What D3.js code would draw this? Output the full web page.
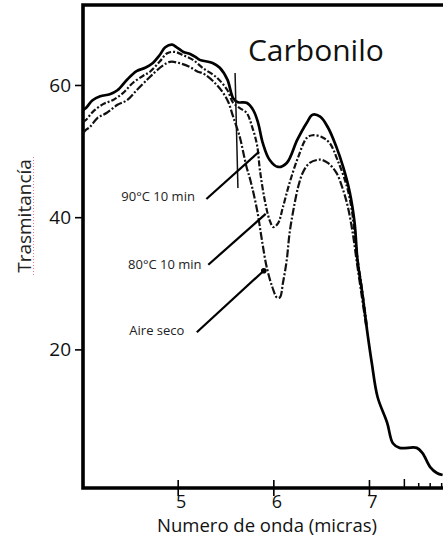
<!DOCTYPE html>
<html>
<head>
<meta charset="utf-8">
<script src="https://cdn.jsdelivr.net/npm/d3@7"></script>
<style>
  body { margin: 0; background: #fff; }
  svg { display: block; font-family: "Open Sans", sans-serif; }
</style>
</head>
<body>
<svg id="chart" width="443" height="537"></svg>
<script>
    'use strict';

    // curves: [micras, trasmitancia]
    var curve90 = [
        [4.01, 56.2], [4.04, 56.5], [4.11, 57.7], [4.19, 58.3], [4.29, 58.6], [4.37, 59.2],
        [4.47, 60.8], [4.57, 62.1], [4.66, 62.6], [4.73, 63.2], [4.81, 64.5], [4.87, 65.7],
        [4.94, 66.1], [4.99, 65.7], [5.06, 65.0], [5.13, 64.7], [5.20, 64.1], [5.23, 63.8],
        [5.37, 63.3], [5.44, 62.6], [5.52, 60.8], [5.58, 58.0], [5.63, 57.4], [5.72, 57.3],
        [5.79, 56.2], [5.84, 54.3], [5.89, 51.2], [5.96, 48.7], [6.05, 47.6], [6.14, 48.2],
        [6.25, 51.7], [6.35, 54.3], [6.41, 55.5], [6.49, 55.2], [6.57, 53.6], [6.66, 50.6],
        [6.73, 47.6], [6.80, 43.7], [6.85, 39.1], [6.88, 33.5], [6.93, 28.5], [6.98, 22.9],
        [7.03, 17.9], [7.09, 12.8], [7.19, 8.9], [7.25, 5.8], [7.32, 5.1], [7.50, 5.1],
        [7.56, 4.3], [7.64, 2.2], [7.71, 1.3], [7.77, 1.0]
    ];
    var curve80 = [
        [4.01, 54.4], [4.04, 54.7], [4.11, 55.9], [4.22, 57.1], [4.32, 57.7], [4.43, 58.8],
        [4.53, 60.3], [4.64, 61.4], [4.71, 62.0], [4.81, 63.5], [4.89, 64.8], [4.97, 65.0],
        [5.06, 64.5], [5.16, 63.8], [5.26, 62.6], [5.41, 61.1], [5.52, 59.2], [5.58, 57.3],
        [5.65, 56.5], [5.72, 55.8], [5.78, 53.6], [5.83, 50.9], [5.86, 47.1], [5.91, 42.6],
        [5.96, 39.6], [6.00, 38.5], [6.05, 39.1], [6.10, 41.5], [6.17, 45.2], [6.26, 49.1],
        [6.35, 52.0], [6.41, 52.4], [6.51, 52.1], [6.59, 51.2], [6.67, 48.7], [6.77, 44.6],
        [6.82, 41.1], [6.85, 37.6], [6.88, 33.8], [6.93, 28.8], [6.98, 23.3]
    ];
    var curveAire = [
        [4.01, 52.7], [4.04, 53.2], [4.08, 53.6], [4.16, 55.0], [4.26, 55.8], [4.37, 57.0],
        [4.47, 57.7], [4.57, 59.2], [4.68, 60.8], [4.73, 61.5], [4.84, 62.9], [4.92, 63.5],
        [5.02, 63.3], [5.13, 62.7], [5.21, 62.0], [5.26, 61.8], [5.41, 60.0], [5.52, 57.7],
        [5.58, 55.2], [5.65, 52.1], [5.68, 50.2], [5.72, 47.6], [5.76, 45.6], [5.83, 41.1],
        [5.88, 36.6], [5.93, 32.5], [5.99, 29.4], [6.04, 27.8], [6.07, 27.9], [6.10, 30.0],
        [6.14, 33.5], [6.17, 37.6], [6.21, 41.1], [6.26, 44.6], [6.31, 46.8], [6.38, 48.2],
        [6.49, 48.7], [6.57, 48.2], [6.66, 46.7], [6.73, 44.1], [6.78, 41.5], [6.83, 37.6],
        [6.87, 33.5], [6.92, 28.5], [6.97, 23.6]
    ];

    var yTicks = [20, 40, 60];
    var xTicks = [5, 6, 7];
    var xMinorTicks = [7.37, 7.52, 7.64, 7.76];

    // labels: text, text end point, leader end point
    var labelNames = ['90°C 10 min', '80°C 10 min', 'Aire seco'];
    var labelText = [[5.18, 42.45], [5.25, 32.2], [5.07, 22.2]];
    var labelFrom = [[5.30, 42.75], [5.32, 32.8], [5.20, 22.6]];
    var labelTo = [[5.85, 49.9], [5.92, 40.5], [5.90, 31.9]];
    var markerLine = [[5.60, 61.8], [5.63, 44.4]];

(function () {
    var svg = d3.select('#chart');
    var plotLeft = 83, plotRight = 443, plotTop = 5, plotBottom = 488;

    var x = d3.scaleLinear().domain([4.01, 7.774]).range([plotLeft, plotRight]);
    var y = d3.scaleLinear().domain([-0.97, 72.1]).range([plotBottom, plotTop]);

    var line = d3.line()
        .x(function (d) { return x(d[0]); })
        .y(function (d) { return y(d[1]); })
        .curve(d3.curveCatmullRom.alpha(0.5));

    // y axis
    var gy = svg.append('g')
        .attr('transform', 'translate(' + plotLeft + ',0)')
        .call(d3.axisLeft(y).tickValues(yTicks).tickSize(8).tickPadding(4));
    gy.select('.domain').remove();
    gy.selectAll('line').attr('stroke', '#000').attr('stroke-width', 1.6);
    gy.selectAll('text').attr('font-size', 19).attr('font-family', '"Open Sans", sans-serif').attr('fill', '#111');

    // x axis, ticks cross the axis line
    var gx = svg.append('g')
        .attr('transform', 'translate(0,' + plotBottom + ')')
        .call(d3.axisBottom(x).tickValues(xTicks).tickFormat(d3.format('d')).tickSize(8));
    gx.select('.domain').remove();
    gx.selectAll('line').attr('y1', -8).attr('y2', 8).attr('stroke', '#000').attr('stroke-width', 1.6);
    gx.selectAll('text').attr('y', 7).attr('x', 3).attr('font-size', 18)
        .attr('font-family', '"Open Sans", sans-serif').attr('fill', '#111');

    svg.append('g').selectAll('line')
        .data(xMinorTicks)
        .enter().append('line')
        .attr('x1', function (d) { return x(d); })
        .attr('x2', function (d) { return x(d); })
        .attr('y1', function (d, i) { return i == 0 ? plotBottom - 9 : plotBottom - 5; })
        .attr('y2', plotBottom)
        .attr('stroke', '#000')
        .attr('stroke-width', 1.5);

    // frame
    svg.append('path')
        .attr('d', 'M' + plotRight + ',' + plotTop + 'H' + plotLeft + 'V' + plotBottom + 'H' + plotRight)
        .attr('fill', 'none')
        .attr('stroke', '#000')
        .attr('stroke-width', 3.6);

    // curves
    svg.append('path').datum(curveAire)
        .attr('fill', 'none').attr('stroke', '#111').attr('stroke-width', 2.2)
        .attr('stroke-dasharray', '8,2,2,2').attr('d', line);
    svg.append('path').datum(curve80)
        .attr('fill', 'none').attr('stroke', '#111').attr('stroke-width', 2.2)
        .attr('stroke-dasharray', '6,2,2,2').attr('d', line);
    svg.append('path').datum(curve90)
        .attr('fill', 'none').attr('stroke', '#000').attr('stroke-width', 2.7)
        .attr('stroke-linejoin', 'round').attr('d', line);

    svg.append('line')
        .attr('x1', x(markerLine[0][0])).attr('y1', y(markerLine[0][1]))
        .attr('x2', x(markerLine[1][0])).attr('y2', y(markerLine[1][1]))
        .attr('stroke', '#111').attr('stroke-width', 1.5);

    // annotations
    labelNames.forEach(function (name, i) {
        svg.append('line')
            .attr('x1', x(labelFrom[i][0])).attr('y1', y(labelFrom[i][1]))
            .attr('x2', x(labelTo[i][0])).attr('y2', y(labelTo[i][1]))
            .attr('stroke', '#000').attr('stroke-width', 2.2);
        svg.append('text')
            .attr('x', x(labelText[i][0])).attr('y', y(labelText[i][1]))
            .attr('text-anchor', 'end')
            .attr('font-size', 13)
            .attr('fill', '#222')
            .text(name);
    });
    svg.append('circle')
        .attr('cx', x(labelTo[2][0])).attr('cy', y(labelTo[2][1]))
        .attr('r', 2.8).attr('fill', '#000');

    svg.append('text')
        .attr('x', x(5.735)).attr('y', y(63.6))
        .attr('font-size', 30)
        .attr('fill', '#111')
        .text('Carbonilo');

    // axis titles
    svg.append('text')
        .attr('transform', 'translate(31,216) rotate(-90)')
        .attr('text-anchor', 'middle')
        .attr('font-size', 19)
        .attr('fill', '#222')
        .text('Trasmitancía');
    svg.append('line')
        .attr('x1', 33.5).attr('x2', 33.5).attr('y1', 157).attr('y2', 275)
        .attr('stroke', '#f08080').attr('stroke-width', 1).attr('stroke-dasharray', '1,2');

    svg.append('text')
        .attr('x', 267).attr('y', 532)
        .attr('text-anchor', 'middle')
        .attr('font-size', 18.5)
        .attr('fill', '#111')
        .text('Numero de onda (micras)');
})();
</script>
</body>
</html>
